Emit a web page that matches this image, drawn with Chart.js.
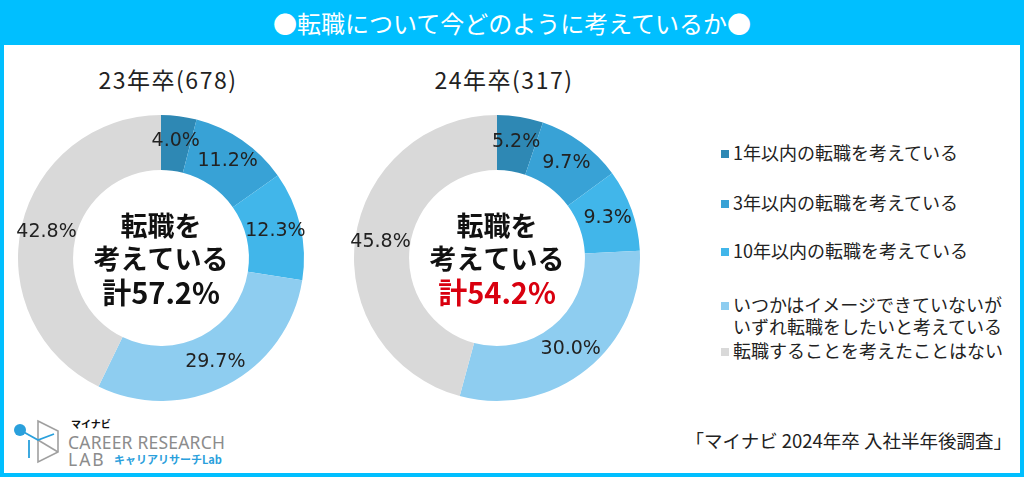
<!DOCTYPE html>
<html lang="ja">
<head>
<meta charset="utf-8">
<script src="https://cdn.jsdelivr.net/npm/chart.js@4/dist/chart.umd.min.js"></script>
<style>
  html,body{margin:0;padding:0;background:#fff;}
  #wrap{position:relative;width:1024px;height:477px;box-sizing:border-box;border:4px solid #00bfff;border-top:none;overflow:hidden;font-family:"Noto Sans CJK JP","Noto Sans",sans-serif;color:#222;}
  #title{position:absolute;left:-4px;top:0;width:1024px;height:45px;background:#00bfff;color:#fff;font-size:24px;line-height:45px;text-align:center;}
  .yr{position:absolute;top:62px;width:300px;text-align:center;font-size:23px;letter-spacing:1.5px;}
  .cv{position:absolute;top:108px;width:300px;height:300px;}
  #legend{position:absolute;left:717px;top:141px;font-size:18px;line-height:22px;}
  .li{position:absolute;left:0;white-space:nowrap;}
  .sq{display:inline-block;width:8px;height:8px;margin-right:4px;vertical-align:2px;}
  #src{position:absolute;right:8px;top:427px;font-size:18.5px;}
  #logo{position:absolute;left:6px;top:416px;width:260px;height:55px;}
</style>
</head>
<body>
<div id="wrap">
  <div id="title">●転職について今どのように考えているか●</div>
  <div class="yr" id="yr0" style="left:14px;"></div>
  <div class="yr" id="yr1" style="left:350px;"></div>
  <canvas class="cv" id="c0" width="300" height="300" style="left:7px;"></canvas>
  <canvas class="cv" id="c1" width="300" height="300" style="left:343px;"></canvas>
  <div id="legend"></div>
  <div id="src">「マイナビ 2024年卒 入社半年後調査」</div>
  <svg id="logo" width="260" height="55" viewBox="0 0 260 55">
    <g fill="none" stroke="#a0a0a0" stroke-width="1.6">
      <path d="M28 5 L48 15 L48 36 L28 46 Z"/>
      <path d="M28 24 L48 36"/>
    </g>
    <g fill="none" stroke="#2aa0dc" stroke-width="1.8">
      <path d="M10 14 L28 24 L44 18 M19 24 L19 42"/>
    </g>
    <circle cx="10" cy="14" r="6" fill="#2aa0dc"/>
    <text x="61" y="12" font-size="10" font-weight="bold" fill="#111" font-family="Noto Sans CJK JP">マイナビ</text>
    <text x="58" y="33" font-size="17.5" fill="#8c8c8c" font-family="Noto Sans" letter-spacing="0.2">CAREER RESEARCH</text>
    <text x="58" y="50" font-size="17.5" fill="#8c8c8c" font-family="Noto Sans" letter-spacing="2">LAB</text>
    <text x="104" y="48" font-size="11" font-weight="bold" fill="#2aa0dc" font-family="Noto Sans CJK JP">キャリアリサーチLab</text>
  </svg>
</div>
<script>
const categories = [
  "1年以内の転職を考えている",
  "3年以内の転職を考えている",
  "10年以内の転職を考えている",
  "いつかはイメージできていないが\nいずれ転職をしたいと考えている",
  "転職することを考えたことはない"
];
const colors = ["#2e88b4", "#38a2d6", "#41b6ea", "#8ecdf0", "#d9d9d9"];
const groupLabels = ["23年卒(678)", "24年卒(317)"];
const values23 = [4.0, 11.2, 12.3, 29.7, 42.8];
const values24 = [5.2, 9.7, 9.3, 30.0, 45.8];
const totalLabels = ["計57.2%", "計54.2%"];
const totalColors = ["#111111", "#d9000f"];
const legendTops = [0, 50, 98, 152, 198];

document.getElementById("yr0").textContent = groupLabels[0];
document.getElementById("yr1").textContent = groupLabels[1];

const lg = document.getElementById("legend");
categories.forEach((c, i) => {
  const d = document.createElement("div");
  d.className = "li";
  d.style.top = legendTops[i] + "px";
  const lines = c.split("\n");
  d.innerHTML = '<span class="sq" style="background:' + colors[i] + '"></span>' + lines[0] +
    (lines[1] ? '<br><span style="padding-left:12px">' + lines[1] + '</span>' : '');
  lg.appendChild(d);
});

const labelPlugin = {
  id: "sliceLabels",
  afterDatasetsDraw(chart) {
    const ctx = chart.ctx;
    const meta = chart.getDatasetMeta(0);
    ctx.save();
    ctx.font = '19px "DejaVu Sans", sans-serif';
    ctx.fillStyle = "#222";
    ctx.textAlign = "center";
    ctx.textBaseline = "middle";
    meta.data.forEach((arc, i) => {
      const p = arc.getProps(["x","y","startAngle","endAngle","innerRadius","outerRadius"], true);
      const a = (p.startAngle + p.endAngle) / 2;
      const r = (p.innerRadius + p.outerRadius) / 2 + 2;
      const v = chart.data.datasets[0].data[i];
      ctx.fillText(v.toFixed(1) + "%", p.x + Math.cos(a) * r, p.y + Math.sin(a) * r);
    });
    const cx = meta.data[0].x, cy = meta.data[0].y;
    const idx = chart.options.plugins.centerIdx;
    ctx.font = 'bold 27px "Noto Sans CJK JP", sans-serif';
    ctx.fillStyle = "#111";
    ctx.fillText("転職を", cx, cy - 32);
    ctx.fillText("考えている", cx, cy + 1);
    ctx.fillStyle = totalColors[idx];
    ctx.font = 'bold 29px "Noto Sans CJK JP", sans-serif';
    ctx.fillText(totalLabels[idx], cx, cy + 35);
    ctx.restore();
  }
};

function makeChart(id, data, idx) {
  return new Chart(document.getElementById(id), {
    type: "doughnut",
    data: {
      labels: categories,
      datasets: [{ data: data, backgroundColor: colors, borderWidth: 0 }]
    },
    options: {
      responsive: false,
      animation: false,
      cutout: "61.5%",
      layout: { padding: 7 },
      plugins: { legend: { display: false }, tooltip: { enabled: false }, centerIdx: idx }
    },
    plugins: [labelPlugin]
  });
}
makeChart("c0", values23, 0);
makeChart("c1", values24, 1);
</script>
</body>
</html>
